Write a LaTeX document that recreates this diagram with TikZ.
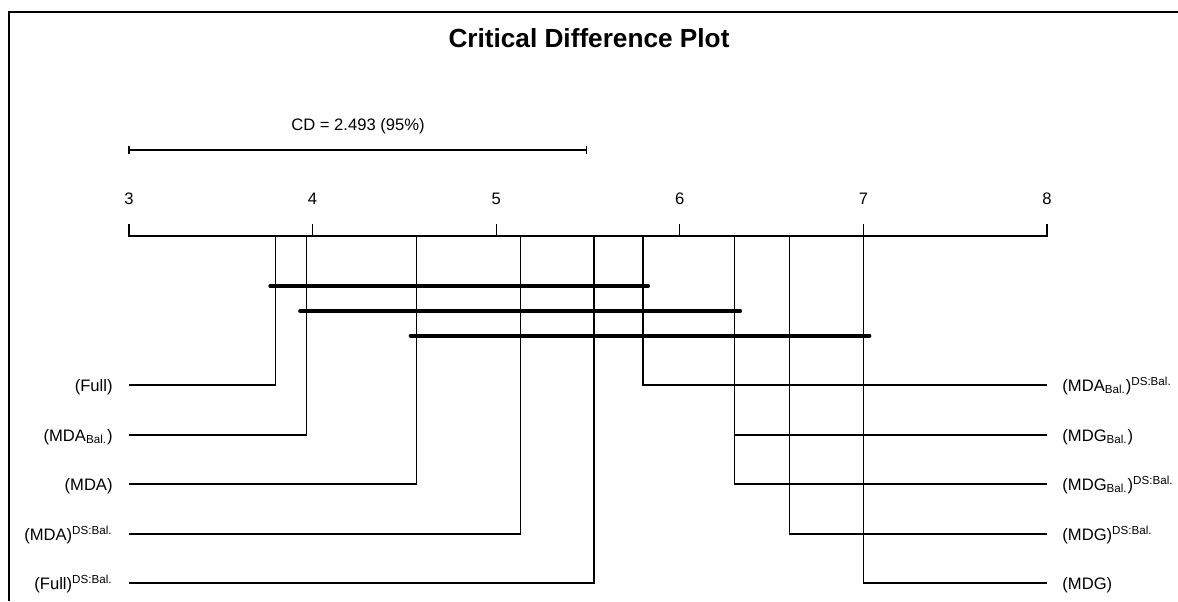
\documentclass[tikz,border=0pt]{standalone}
\usepackage{fontspec}
\setmainfont{Liberation Sans}
\newcommand{\rk}[1]{129+(#1-3)*183.6}
\begin{document}
\begin{tikzpicture}[x=0.5pt,y=-0.5pt,
    lbl/.style={font=\fontsize{8.3}{10}\selectfont, inner sep=0pt},
    rankline/.style={line width=0.65pt},
    cliqueline/.style={line width=2pt, line cap=round}]
        \useasboundingbox (0,0) rectangle (1178,601);
        \draw [line width=1pt] (9,601) -- (9,12) -- (1178,12); % frame
        \node [font=\bfseries\fontsize{13.1}{15}\selectfont, inner sep=0pt, anchor=base] (title) at (589,47) {Critical Difference Plot};
        % critical difference bar
        \coordinate (cdL) at ({\rk{3}},150);
        \coordinate (cdR) at ({\rk{5.493}},150);
        \draw [rankline] (cdL) -- (cdR);
        \draw [rankline] ([yshift=2pt]cdL) -- ([yshift=-2pt]cdL);
        \draw [rankline] ([yshift=2pt]cdR) -- ([yshift=-2pt]cdR);
        \node [lbl, anchor=base] (cd) at (358,130) {CD = 2.493 (95\%)};
        % axis
        \draw [rankline] ({\rk{3}},224) -- ({\rk{3}},236) -- ({\rk{8}},236) -- ({\rk{8}},224);
        \foreach \t in {4,...,7} \draw [rankline] ({\rk{\t}},224) -- ({\rk{\t}},236);
        \foreach \t in {3,...,8} \node [lbl, anchor=base] (tick\t) at ({\rk{\t}},204) {\t};
        % left methods
        \foreach \r/\y/\n/\txt in {3.797/385/full/{(Full)},
                3.965/435/mdabal/{(MDA\textsubscript{Bal.})},
                4.567/484/mda/{(MDA)},
                5.133/534/mdads/{(MDA)\textsuperscript{DS:Bal.}},
                5.533/583/fullds/{(Full)\textsuperscript{DS:Bal.}}} {
            \node [lbl, anchor=base east] (\n) at (113,\y+6) {\txt};
            \coordinate (\n-end) at (129,\y);
            \draw [rankline] ({\rk{\r}},236) |- (\n-end);
        }
        % right methods
        \foreach \r/\y/\n/\txt in {5.800/385/mdabalds/{(MDA\textsubscript{Bal.})\textsuperscript{DS:Bal.}},
                6.296/435/mdgbal/{(MDG\textsubscript{Bal.})},
                6.296/484/mdgbalds/{(MDG\textsubscript{Bal.})\textsuperscript{DS:Bal.}},
                6.596/534/mdgds/{(MDG)\textsuperscript{DS:Bal.}},
                7.000/583/mdg/{(MDG)}} {
            \node [lbl, anchor=base west] (\n) at (1062,\y+6) {\txt};
            \coordinate (\n-end) at ({\rk{8}},\y);
            \draw [rankline] ({\rk{\r}},236) |- (\n-end);
        }
        % cliques
        \draw [cliqueline] ({\rk{3.797}-5},286) -- ({\rk{5.800}+5},286);
        \draw [cliqueline] ({\rk{3.965}-6},311) -- ({\rk{6.296}+6},311);
        \draw [cliqueline] ({\rk{4.567}-6},335.5) -- ({\rk{7.000}+6},335.5);
    \end{tikzpicture}
\end{document}
